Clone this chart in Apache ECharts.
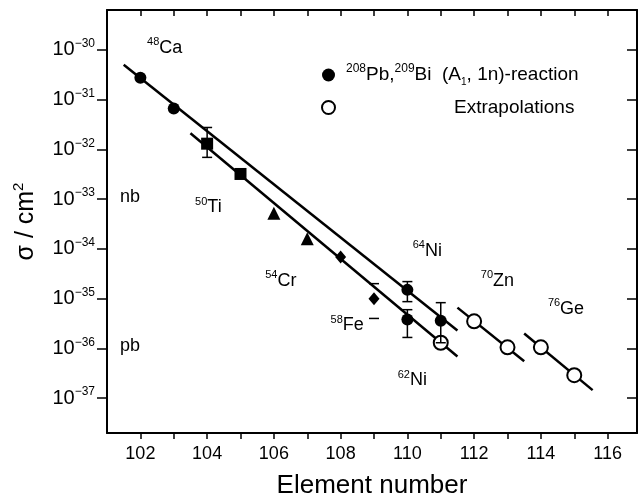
<!DOCTYPE html>
<html>
<head>
<meta charset="utf-8">
<script src="https://cdn.jsdelivr.net/npm/echarts@6/dist/echarts.min.js"></script>
<style>
html, body { margin: 0; padding: 0; background: #fff; }
#chart { width: 639px; height: 504px; }
</style>
</head>
<body>
<div id="chart"></div>
<script>
// cross sections (cm^2)
var circleX = [102, 103, 110, 111, 110];
var circleY = [2.75e-31, 6.6e-32, 1.5e-35, 3.6e-36, 3.8e-36];
var squareX = [104, 105];
var squareY = [1.3e-32, 3.2e-33];
var triX = [106, 107];
var triY = [5.2e-34, 1.6e-34];
var diamondX = [108, 109];
var diamondY = [6.9e-35, 1.0e-35];
var openX = [111, 112, 113, 114, 115];
var openY = [1.3e-36, 3.5e-36, 1.05e-36, 1.05e-36, 2.9e-37];

// error bars (upper / lower end), stem = vertical line drawn
var errX = [104, 109, 110, 110, 111];
var errHi = [2.75e-32, 2.0e-35, 2.2e-35, 6.0e-36, 8.3e-36];
var errLo = [6.9e-33, 4.0e-36, 8.7e-36, 1.66e-36, 1.3e-36];
var errStem = [1, 0, 1, 1, 1];

// straight fits, start and end points
var fitCa = [[101.5, 5.0e-31], [111.5, 2.3e-36]];
var fitTi = [[103.5, 2.1e-32], [111.5, 6.9e-37]];
var fitZn = [[111.5, 6.6e-36], [113.5, 5.5e-37]];
var fitGe = [[113.5, 2.0e-36], [115.55, 1.45e-37]];

// axis ticks
var xLabelTicks = [102, 104, 106, 108, 110, 112, 114, 116];
var xTicks = [102, 103, 104, 105, 106, 107, 108, 109, 110, 111, 112, 113, 114, 115, 116];
var yDecades = [-37, -36, -35, -34, -33, -32, -31, -30];

// projectile labels
var notes = ['{s|48}Ca', 'nb', '{s|50}Ti', '{s|54}Cr', 'pb', '{s|64}Ni', '{s|70}Zn', '{s|76}Ge', '{s|58}Fe', '{s|62}Ni'];
var noteX = [102.2, 101.39, 103.64, 105.74, 101.39, 110.16, 112.2, 114.21, 107.7, 109.71];
var noteY = [1.1e-30, 1.1e-33, 6.9e-34, 2.3e-35, 1.1e-36, 9.1e-35, 2.3e-35, 6.3e-36, 2.9e-36, 2.3e-37];

var FONT = "'Liberation Sans', sans-serif";

function lg(v) { return Math.log10(v); }
function pts(xs, ys) {
  var out = [];
  for (var i = 0; i < xs.length; i++) out.push([xs[i], lg(ys[i])]);
  return out;
}
function fit(p) {
  return p.map(function (d) { return [d[0], lg(d[1])]; });
}

var chart = echarts.init(document.getElementById('chart'));

var errData = [];
for (var i = 0; i < errX.length; i++) {
  errData.push([errX[i], lg(errHi[i]), lg(errLo[i]), errStem[i]]);
}
var noteData = [];
for (var j = 0; j < notes.length; j++) {
  noteData.push({ name: notes[j], value: [noteX[j], lg(noteY[j])] });
}

function fitSeries(p) {
  return {
    type: 'line',
    data: fit(p),
    symbol: 'none',
    silent: true,
    z: 2,
    lineStyle: { color: '#000', width: 2.5 }
  };
}

function dots(xs, ys, sym, size, style, name) {
  return {
    name: name,
    type: 'scatter',
    data: pts(xs, ys),
    symbol: sym,
    symbolSize: size,
    z: 3,
    itemStyle: style
  };
}

var supRich = {
  m: { fontSize: 18, lineHeight: 22, fontFamily: FONT, color: '#000' },
  s: { fontSize: 11, lineHeight: 12, verticalAlign: 'top', fontFamily: FONT, color: '#000' }
};

var option = {
  animation: false,
  backgroundColor: '#fff',
  textStyle: { fontFamily: FONT, color: '#000' },
  grid: { left: 107, right: 2, top: 10, bottom: 69 },
  legend: {
    orient: 'vertical',
    left: 316,
    top: 58,
    itemGap: 11,
    itemWidth: 13,
    itemHeight: 13,
    data: ['reaction', 'extrap'],
    selectedMode: false,
    formatter: function (name) {
      if (name === 'reaction') return '{p|}{s|208}{m|Pb,}{s|209}{m|Bi  (A}{b|1}{m|, 1n)-reaction}';
      return '{q|}{m|Extrapolations}';
    },
    textStyle: {
      fontFamily: FONT,
      rich: {
        m: { fontSize: 19, lineHeight: 24, fontFamily: FONT, color: '#000' },
        s: { fontSize: 12, lineHeight: 12, verticalAlign: 'top', fontFamily: FONT, color: '#000' },
        b: { fontSize: 10, lineHeight: 10, verticalAlign: 'bottom', fontFamily: FONT, color: '#000' },
        p: { width: 6 },
        q: { width: 114 }
      }
    }
  },
  xAxis: [{
    type: 'value',
    min: 101,
    max: 116.88,
    name: 'Element number',
    nameLocation: 'middle',
    nameGap: 40,
    nameTextStyle: { fontSize: 26, fontFamily: FONT, color: '#000' },
    splitLine: { show: false },
    axisLine: { show: true, onZero: false, lineStyle: { color: '#000', width: 2 } },
    axisTick: { show: true, inside: false, length: 6, customValues: xTicks, lineStyle: { color: '#000', width: 1.5 } },
    axisLabel: { customValues: xLabelTicks, fontSize: 18, margin: 12, color: '#000', fontFamily: FONT }
  }, {
    type: 'value',
    position: 'top',
    min: 101,
    max: 116.88,
    splitLine: { show: false },
    axisLine: { show: true, onZero: false, lineStyle: { color: '#000', width: 2 } },
    axisTick: { show: true, inside: true, length: 6, customValues: xTicks, lineStyle: { color: '#000', width: 1.5 } },
    axisLabel: { show: false }
  }],
  yAxis: [{
    type: 'value',
    min: -37.7,
    max: -29.2,
    name: '{a|σ / cm}{s|2}',
    nameLocation: 'middle',
    nameGap: 66,
    nameTextStyle: {
      rich: {
        a: { fontSize: 25, lineHeight: 30, fontFamily: FONT, color: '#000' },
        s: { fontSize: 15, lineHeight: 16, verticalAlign: 'top', fontFamily: FONT, color: '#000' }
      }
    },
    splitLine: { show: false },
    axisLine: { show: true, onZero: false, lineStyle: { color: '#000', width: 2 } },
    axisTick: { show: true, inside: false, length: 10, customValues: yDecades, lineStyle: { color: '#000', width: 1.5 } },
    axisLabel: {
      customValues: yDecades,
      margin: 12,
      formatter: function (v) { return '{b|10}{s|\u2212' + Math.abs(Math.round(v)) + '}'; },
      rich: {
        b: { fontSize: 20, lineHeight: 24, fontFamily: FONT, color: '#000' },
        s: { fontSize: 12, lineHeight: 12, verticalAlign: 'top', fontFamily: FONT, color: '#000' }
      }
    }
  }, {
    type: 'value',
    position: 'right',
    min: -37.7,
    max: -29.2,
    splitLine: { show: false },
    axisLine: { show: true, onZero: false, lineStyle: { color: '#000', width: 2 } },
    axisTick: { show: true, inside: true, length: 10, customValues: yDecades, lineStyle: { color: '#000', width: 1.5 } },
    axisLabel: { show: false }
  }],
  series: [
    fitSeries(fitCa),
    fitSeries(fitTi),
    fitSeries(fitZn),
    fitSeries(fitGe),
    dots(circleX, circleY, 'circle', 12, { color: '#000', opacity: 1 }, 'reaction'),
    dots(squareX, squareY, 'rect', 12, { color: '#000', opacity: 1 }),
    dots(triX, triY, 'triangle', 13, { color: '#000', opacity: 1 }),
    dots(diamondX, diamondY, 'diamond', [11, 13], { color: '#000', opacity: 1 }),
    dots(openX, openY, 'circle', 14, { color: '#fff', borderColor: '#000', borderWidth: 2, opacity: 1 }, 'extrap'),
    {
      type: 'custom',
      z: 4,
      silent: true,
      data: errData,
      renderItem: function (params, api) {
        var top = api.coord([api.value(0), api.value(1)]);
        var bot = api.coord([api.value(0), api.value(2)]);
        var st = { stroke: '#000', lineWidth: 1.5 };
        var kids = [
          { type: 'line', shape: { x1: top[0] - 5, y1: top[1], x2: top[0] + 5, y2: top[1] }, style: st },
          { type: 'line', shape: { x1: bot[0] - 5, y1: bot[1], x2: bot[0] + 5, y2: bot[1] }, style: st }
        ];
        if (api.value(3)) {
          kids.push({ type: 'line', shape: { x1: top[0], y1: top[1], x2: bot[0], y2: bot[1] }, style: st });
        }
        return { type: 'group', children: kids };
      }
    },
    {
      type: 'scatter',
      data: noteData,
      symbolSize: 0,
      silent: true,
      z: 5,
      itemStyle: { opacity: 1, color: '#000' },
      label: {
        show: true,
        position: 'right',
        distance: 0,
        color: '#000',
        opacity: 1,
        formatter: function (p) {
          return p.name.replace(/([A-Za-z]+)$/, '{m|$1}');
        },
        rich: supRich
      }
    }
  ]
};

chart.setOption(option);
</script>
</body>
</html>
